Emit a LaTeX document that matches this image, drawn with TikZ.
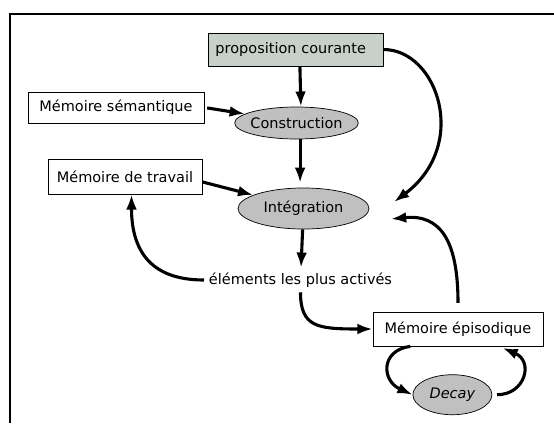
\documentclass[tikz,border=0pt]{standalone}
\usepackage{fontspec}
\setmainfont{DejaVu Sans}
\usetikzlibrary{arrows.meta}
\usetikzlibrary{positioning}
\usetikzlibrary{shapes.geometric}
\definecolor{propfill}{RGB}{200,209,201}
\definecolor{ellfill}{RGB}{192,192,192}

\begin{document}
\begin{tikzpicture}[x=0.025cm, y=-0.025cm,
    font=\fontsize{10.3}{12}\selectfont,
    box/.style={draw, line width=0.5pt, inner sep=0pt},
    proc/.style={draw, ellipse, fill=ellfill, line width=0.5pt, inner sep=0pt},
    arr/.style={-{Latex[length=3.8mm,width=2.7mm]}, line width=2.2pt}]
  \useasboundingbox (0,0) rectangle (554,423);
  \draw[line width=2pt] (10,423) -- (10,14) -- (554,14);

  \node[box, fill=propfill, minimum height=0.825cm, text width=4.0cm,
        inner xsep=0.19cm, align=left] (prop) at (295.5,49.5) {proposition courante};
  \node[box, minimum width=4.4cm, minimum height=0.775cm] (sem) at (116,107.5) {Mémoire sémantique};
  \node[box, minimum width=3.85cm, minimum height=0.875cm] (trav) at (125,176.5) {Mémoire de travail};
  \node[box, minimum width=4.25cm, minimum height=0.85cm] (epis) at (458,329) {Mémoire épisodique};
  \node[proc, minimum width=3.025cm, minimum height=0.8cm, inner xsep=-0.6mm] (cons) at (296.5,123) {Construction};
  \node[proc, minimum width=3.275cm, minimum height=1.025cm] (integ) at (303.5,208.5) {Intégration};
  \node (elem) at (300.5,280) {éléments les plus activés};
  \node[proc, minimum width=1.975cm, minimum height=1cm] (decay) [below=0.7cm of epis, xshift=-0.14cm] {\itshape Decay};

  % free ends right of Integration
  \coordinate (pin) at (394,202);
  \coordinate (ein) at (391,219);

  \draw[arr] ([xshift=0.11cm]prop.south) -- ([xshift=0.11cm]cons.north);
  \draw[arr, shorten >=0.12cm] ([xshift=0.09cm]cons.south) -- ([xshift=0.09cm]cons.south |- integ.north);
  \draw[arr] (integ) -- (elem);
  \draw[arr, shorten <=2pt] (sem.east) -- (cons.170);
  \draw[arr] (trav.-4) -- (integ.165);
  \draw[arr] (prop.east) .. controls +(54,0) and +(76,-57) .. (pin);
  \draw[arr, shorten <=0.22cm] (epis.north) .. controls +(0,-70) and +(50,-5) .. (ein);
  \draw[arr] (elem.south) .. controls +(0,35) and +(-55,0) .. (epis.west);
  \draw[arr] (elem.west) .. controls +(-50,0) and +(0,60) .. (trav.-70);
  \draw[arr] (epis.-160) .. controls +(-30,4) and +(-31,-14) .. (decay.west);
  \draw[arr, shorten <=0.12cm, shorten >=0.1cm] (decay.east) .. controls +(33,0) and +(35,15) .. (epis.-23);
\end{tikzpicture}
\end{document}
